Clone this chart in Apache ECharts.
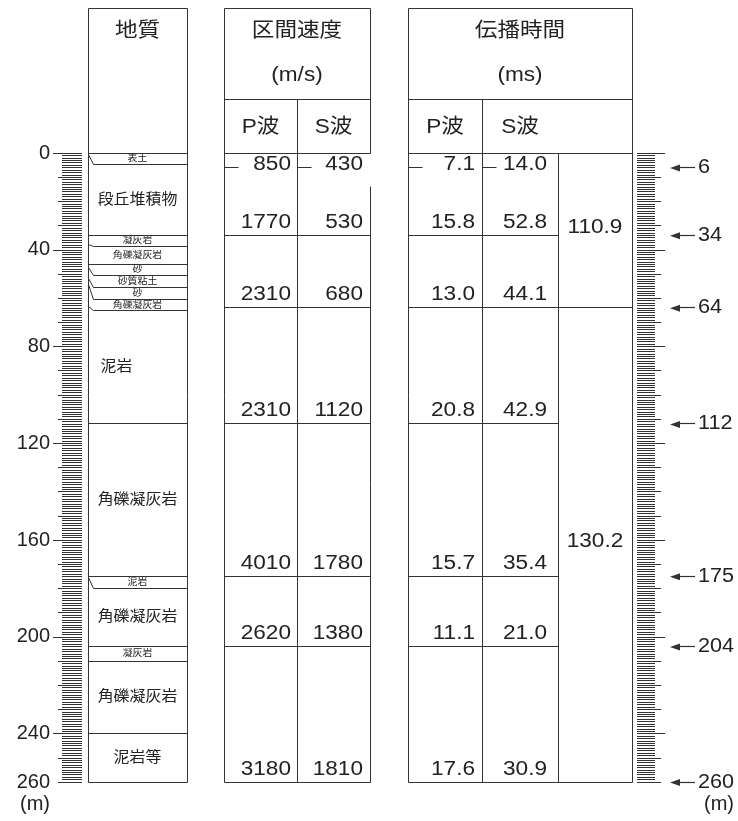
<!DOCTYPE html>
<html>
<head>
<meta charset="utf-8">
<script src="https://cdn.jsdelivr.net/npm/echarts@6/dist/echarts.min.js"></script>
<style>
  html, body { margin: 0; padding: 0; background: #fff; }
  #chart { width: 738px; height: 821px; }
</style>
</head>
<body>
<div id="chart"></div>
<script>
// Geological log: layer names, bottom depth as drawn (m) and depth where the boundary meets the left edge (m)
const geoNames = ['表土', '段丘堆積物', '凝灰岩', '角礫凝灰岩', '砂', '砂質粘土', '砂', '角礫凝灰岩',
                  '泥岩', '角礫凝灰岩', '泥岩', '角礫凝灰岩', '凝灰岩', '角礫凝灰岩', '泥岩等'];
const geoBottom     = [4.7, 34, 38.7, 46, 50.7, 55.7, 60.4, 65.3, 112, 175, 180, 204, 210, 240, 260];
const geoBottomEdge = [0.6, 34, 37.7, 46, 47.4, 51.7, 54.3, 63.5, 112, 175, 175.4, 204, 210, 240, 260];

// Interval boundaries (m) for the velocity / travel-time table
const rowBounds = [0, 6, 34, 64, 112, 175, 204, 260];
const subBounds = [6];
// Interval velocity (m/s)
const vpValues = [850, 1770, 2310, 2310, 4010, 2620, 3180];
const vsValues = [430, 530, 680, 1120, 1780, 1380, 1810];
// Travel time (ms)
const tpValues = [7.1, 15.8, 13.0, 20.8, 15.7, 11.1, 17.6];
const tsValues = [14.0, 52.8, 44.1, 42.9, 35.4, 21.0, 30.9];
const tsSumBounds = [0, 64, 260];
const tsSumValues = [110.9, 130.2];

// Depth markers on the right scale and labels on the left scale (m)
const markerDepths = [6, 34, 64, 112, 175, 204, 260];
const depthLabels = [0, 40, 80, 120, 160, 200, 240, 260];

// ---- layout ----
const FONT = "'Liberation Sans', Arial, 'Noto Sans CJK JP', sans-serif";
const INK = '#222';
const LINE_COLOR = '#333';
const STRETCH = 1.13;
const COL = { geo: [88, 187], vel: [224, 297, 370], trv: [408, 482, 558, 632] };
const HEAD = { top: 145, mid: 54, title: 122, unit: 78, sub: 26 };
const geoLabelShift = { 8: -21 };
const depthMax = rowBounds[rowBounds.length - 1];

const crisp = v => Math.round(v - 0.5) + 0.5;
function seg(x1, y1, x2, y2) {
  return { type: 'line', shape: { x1: crisp(x1), y1: crisp(y1), x2: crisp(x2), y2: crisp(y2) },
           style: { stroke: LINE_COLOR, lineWidth: 1 } };
}
function txt(x, y, text, size, align, sx) {
  return { type: 'text', x: x, y: y, scaleX: sx || STRETCH,
           style: { x: 0, y: 0, text: String(text), fontSize: size, fontFamily: FONT, fill: INK,
                    align: align || 'center', verticalAlign: 'middle' } };
}
const yOf = (api, d) => api.coord([0, d])[1];

function renderFrame(params, api) {
  const y0 = yOf(api, 0), y1 = yOf(api, depthMax);
  const yt = y0 - HEAD.top, ym = y0 - HEAD.mid;
  const [gL, gR] = COL.geo, [vL, vM, vR] = COL.vel, [tL, tP, tS, tR] = COL.trv;
  const c = [];
  // geology column
  c.push(seg(gL, yt, gR, yt), seg(gL, yt, gL, y1), seg(gR, yt, gR, y1), seg(gL, y1, gR, y1), seg(gL, y0, gR, y0));
  // velocity column
  c.push(seg(vL, yt, vR, yt), seg(vL, yt, vL, y1), seg(vR, yt, vR, y0), seg(vR, y0 + 33, vR, y1),
         seg(vL, y1, vR, y1), seg(vL, ym, vR, ym), seg(vL, y0, vR, y0), seg(vM, ym, vM, y1));
  // travel-time column
  c.push(seg(tL, yt, tR, yt), seg(tL, yt, tL, y1), seg(tR, yt, tR, y1), seg(tL, y1, tR, y1),
         seg(tL, ym, tR, ym), seg(tL, y0, tR, y0), seg(tP, ym, tP, y1), seg(tS, y0, tS, y1));
  // headers
  const hs = 20;
  c.push(txt((gL + gR) / 2, y0 - HEAD.title, '地質', hs));
  c.push(txt((vL + vR) / 2, y0 - HEAD.title, '区間速度', hs));
  c.push(txt((vL + vR) / 2, y0 - HEAD.unit, '(m/s)', hs));
  c.push(txt((vL + vM) / 2, y0 - HEAD.sub, 'P波', hs));
  c.push(txt((vM + vR) / 2, y0 - HEAD.sub, 'S波', hs));
  c.push(txt((tL + tR) / 2, y0 - HEAD.title, '伝播時間', hs));
  c.push(txt((tL + tR) / 2, y0 - HEAD.unit, '(ms)', hs));
  c.push(txt((tL + tP) / 2, y0 - HEAD.sub, 'P波', hs));
  c.push(txt((tP + tS) / 2, y0 - HEAD.sub, 'S波', hs));
  return { type: 'group', children: c };
}

function renderGeo(params, api) {
  const i = api.value(0);
  const top = api.value(1), bot = api.value(2), edge = api.value(3);
  const yt = yOf(api, top), yb = yOf(api, bot), ye = yOf(api, edge);
  const [gL, gR] = COL.geo;
  const c = [];
  if (bot < depthMax) {
    if (Math.abs(yb - ye) > 1) {
      c.push({ type: 'polyline',
               shape: { points: [[crisp(gL), crisp(ye)], [crisp(gL + 5), crisp(yb)], [crisp(gR), crisp(yb)]] },
               style: { stroke: LINE_COLOR, lineWidth: 1, fill: null } });
    } else {
      c.push(seg(gL, yb, gR, yb));
    }
  }
  const thin = bot - top < 8;
  const cx = (gL + gR) / 2 + (geoLabelShift[i] || 0);
  c.push(txt(cx, (yt + yb) / 2, geoNames[i], thin ? 9 : 14.5, 'center', 1.1));
  return { type: 'group', children: c };
}

function rowLines(api, bot, x0, x1, cols) {
  const yb = yOf(api, bot);
  if (subBounds.indexOf(bot) >= 0) {
    return cols.map(x => seg(x, yb, x + 14, yb));
  }
  if (bot < depthMax) return [seg(x0, yb, x1, yb)];
  return [];
}
const textY = (yt, yb) => Math.max(yt + 11, yb - 13);

function renderVel(params, api) {
  const top = api.value(1), bot = api.value(2);
  const yt = yOf(api, top), yb = yOf(api, bot);
  const [vL, vM, vR] = COL.vel;
  const c = rowLines(api, bot, vL, vR, [vL, vM]);
  const y = textY(yt, yb);
  c.push(txt(vM - 6, y, api.value(3), 20, 'right'));
  c.push(txt(vR - 7, y, api.value(4), 20, 'right'));
  return { type: 'group', children: c };
}

function renderTrv(params, api) {
  const top = api.value(1), bot = api.value(2);
  const yt = yOf(api, top), yb = yOf(api, bot);
  const [tL, tP, tS, tR] = COL.trv;
  const right = tsSumBounds.indexOf(bot) >= 0 ? tR : tS;
  const c = rowLines(api, bot, tL, right, [tL, tP]);
  const y = textY(yt, yb);
  c.push(txt(tP - 7, y, api.value(3).toFixed(1), 20, 'right'));
  c.push(txt(tS - 11, y, api.value(4).toFixed(1), 20, 'right'));
  return { type: 'group', children: c };
}

function renderSum(params, api) {
  const yt = yOf(api, api.value(1)), yb = yOf(api, api.value(2));
  const [, , tS, tR] = COL.trv;
  return txt((tS + tR) / 2, (yt + yb) / 2 - 3, api.value(3).toFixed(1), 20, 'center');
}

function renderMarker(params, api) {
  const y = yOf(api, api.value(1));
  return { type: 'group', children: [
    { type: 'line', shape: { x1: 676, y1: crisp(y), x2: 695, y2: crisp(y) },
      style: { stroke: LINE_COLOR, lineWidth: 1.2 } },
    { type: 'polygon', shape: { points: [[670, y + 0.5], [680, y - 3], [680, y + 4]] },
      style: { fill: LINE_COLOR } },
    txt(698, y, api.value(1), 20, 'left', 1.08)
  ] };
}

const tickStyle = { color: LINE_COLOR, width: 1 };
function depthAxis(pos, offset, extra) {
  return Object.assign({
    type: 'value', inverse: true, min: 0, max: depthMax, position: pos, offset: offset,
    axisLine: { show: false }, splitLine: { show: false }, axisLabel: { show: false }
  }, extra);
}
const longTicks = depthLabels.filter(v => v % 40 === 0);

const chart = echarts.init(document.getElementById('chart'));
chart.setOption({
  animation: false,
  backgroundColor: '#fff',
  grid: { left: 0, right: 0, top: 153, bottom: 39 },
  xAxis: { type: 'value', min: 0, max: 738, show: false },
  yAxis: [
    depthAxis('left', -82, {
      interval: 40,
      axisTick: { show: true, length: 29, lineStyle: tickStyle, customValues: longTicks },
      axisLabel: { show: true, margin: 32, fontSize: 20, color: INK, fontFamily: FONT, customValues: depthLabels }
    }),
    depthAxis('left', -82, {
      interval: 10,
      axisTick: { show: true, length: 24, lineStyle: tickStyle },
      minorTick: { show: true, splitNumber: 10, length: 20, lineStyle: tickStyle }
    }),
    depthAxis('right', -101, {
      interval: 40,
      axisTick: { show: true, length: 28, lineStyle: tickStyle, customValues: longTicks }
    }),
    depthAxis('right', -101, {
      interval: 10,
      axisTick: { show: true, length: 24, lineStyle: tickStyle },
      minorTick: { show: true, splitNumber: 10, length: 18, lineStyle: tickStyle }
    })
  ],
  series: [
    { type: 'custom', clip: false, renderItem: renderFrame, data: [[0, 0]], encode: { x: 0, y: 1 } },
    { type: 'custom', clip: false, renderItem: renderGeo, encode: { x: 0, y: 2 },
      data: geoNames.map((n, i) => [i, i ? geoBottom[i - 1] : 0, geoBottom[i], geoBottomEdge[i]]) },
    { type: 'custom', clip: false, renderItem: renderVel, encode: { x: 0, y: 2 },
      data: vpValues.map((v, i) => [i, rowBounds[i], rowBounds[i + 1], v, vsValues[i]]) },
    { type: 'custom', clip: false, renderItem: renderTrv, encode: { x: 0, y: 2 },
      data: tpValues.map((v, i) => [i, rowBounds[i], rowBounds[i + 1], v, tsValues[i]]) },
    { type: 'custom', clip: false, renderItem: renderSum, encode: { x: 0, y: 2 },
      data: tsSumValues.map((v, i) => [i, tsSumBounds[i], tsSumBounds[i + 1], v]) },
    { type: 'custom', clip: false, renderItem: renderMarker, encode: { x: 0, y: 1 },
      data: markerDepths.map(d => [0, d]) }
  ],
  graphic: [
    { type: 'text', left: 20, top: 794, style: { text: '(m)', fontSize: 20, fontFamily: FONT, fill: INK } },
    { type: 'text', left: 704, top: 794, style: { text: '(m)', fontSize: 20, fontFamily: FONT, fill: INK } }
  ]
});
</script>
</body>
</html>
